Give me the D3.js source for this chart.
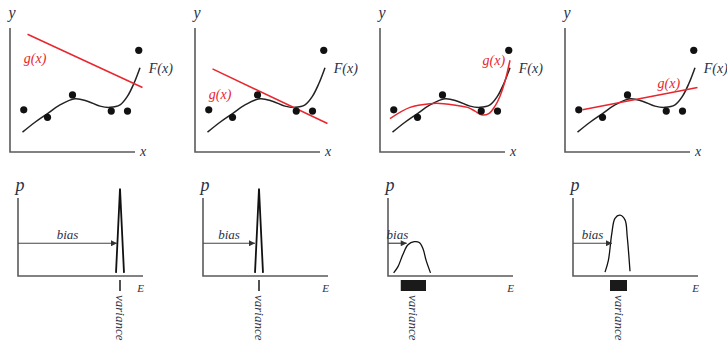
<!DOCTYPE html>
<html>
<head>
<meta charset="utf-8">
<script src="https://cdn.jsdelivr.net/npm/d3@7"></script>
<style>
  body { margin: 0; background: #fff; }
</style>
</head>
<body>
<div id="chart"></div>
<script>
// data points shared by the four fit panels (x, y in 0..100 units)
const dots = [[11, 34], [30, 28], [50, 46], [81, 33], [94, 33], [103, 82]];

// true function F(x)
const fCurve = [[10, 16], [20, 24], [30, 31], [40, 38], [52, 43], [62, 41], [72, 37], [80, 36], [88, 38], [94, 45], [99, 55], [104, 68]];

// fitted g(x) for each panel
const gFits = [
  [[14, 95], [106, 52]],
  [[14, 67], [106, 23]],
  [[8, 27], [24, 36], [40, 39], [51, 39], [62, 37.5], [70, 36], [76, 33], [81, 30], [87, 31], [92, 37], [96, 45], [100, 57], [104, 74]],
  [[14, 34], [106, 52]]
];
const gLabelAt = [[11, 72], [11, 43], [82, 70], [74, 52]];

// error distributions p(E), E and p in 0..100 units
const dists = [
  [[78.4, 4], [81.6, 112], [84.8, 4]],
  [[41.6, 4], [44.8, 112], [48.0, 4]],
  [[4.5, 4], [8, 12], [12, 28], [16, 40], [21, 44], [25, 43], [28, 35], [30.5, 20], [34, 4]],
  [[25.6, 5], [28.3, 20], [31, 54], [33.6, 74], [37.6, 78], [41.6, 72], [43.4, 50], [45.6, 6]]
];
const biasEnd = [79.2, 41.6, 15, 31.2];
const varLo = [81.0, 44.2, 10.2, 29.6];
const varHi = [82.2, 45.4, 30.4, 43.2];

const W = 727, H = 341;
const svg = d3.select('#chart').append('svg')
  .attr('width', W).attr('height', H)
  .style('font-family', "'Liberation Serif', 'Times New Roman', serif")
  .style('font-style', 'italic');

const defs = svg.append('defs');
defs.append('marker')
  .attr('id', 'arr')
  .attr('viewBox', '0 0 10 10')
  .attr('refX', 10).attr('refY', 5)
  .attr('markerWidth', 7).attr('markerHeight', 6)
  .attr('markerUnits', 'userSpaceOnUse')
  .attr('orient', 'auto')
  .append('path').attr('d', 'M0,0L10,5L0,10Z').attr('fill', '#333');

const axisColor = '#5a5a5a';
const red = '#e8262e';
const ink = '#2b3045';
const topLeft = [10, 195, 380, 565];
const botLeft = [18, 203, 388, 573];

// top row: curve fitting
topLeft.forEach((x0, i) => {
  const xs = d3.scaleLinear().domain([0, 100]).range([x0, x0 + 125]);
  const ys = d3.scaleLinear().domain([0, 100]).range([152, 28]);
  const g = svg.append('g');

  g.append('path')
    .attr('d', `M${xs(0)},${ys(100)}V${ys(0)}H${xs(100)}`)
    .attr('fill', 'none').attr('stroke', axisColor).attr('stroke-width', 1.6);
  g.append('text').attr('x', xs(0) + 2).attr('y', 18)
    .attr('text-anchor', 'middle').attr('font-size', 16).attr('fill', ink).text('y');
  g.append('text').attr('x', xs(106.5)).attr('y', 156)
    .attr('text-anchor', 'middle').attr('font-size', 14).attr('fill', ink).text('x');

  const line = d3.line().x(d => xs(d[0])).y(d => ys(d[1])).curve(d3.curveCatmullRom);

  g.append('path').attr('d', line(fCurve))
    .attr('fill', 'none').attr('stroke', '#222').attr('stroke-width', 1.5);
  g.append('path').attr('d', line(gFits[i]))
    .attr('fill', 'none').attr('stroke', red).attr('stroke-width', 1.5);

  g.selectAll('circle').data(dots).enter().append('circle')
    .attr('cx', d => xs(d[0])).attr('cy', d => ys(d[1]))
    .attr('r', 3.6).attr('fill', '#111');

  g.append('text').attr('x', xs(111)).attr('y', ys(64))
    .attr('font-size', 14).attr('fill', ink).text('F(x)');
  g.append('text').attr('x', xs(gLabelAt[i][0])).attr('y', ys(gLabelAt[i][1]))
    .attr('font-size', 14).attr('fill', red).text('g(x)');
});

// bottom row: error distributions
botLeft.forEach((x0, i) => {
  const es = d3.scaleLinear().domain([0, 100]).range([x0, x0 + 125]);
  const ps = d3.scaleLinear().domain([0, 100]).range([276, 198]);
  const g = svg.append('g');

  g.append('path')
    .attr('d', `M${es(0)},${ps(100)}V${ps(0)}H${es(100)}`)
    .attr('fill', 'none').attr('stroke', axisColor).attr('stroke-width', 1.6);
  g.append('text').attr('x', es(0) + 2).attr('y', 191)
    .attr('text-anchor', 'middle').attr('font-size', 18).attr('fill', ink).text('p');
  g.append('text').attr('x', es(98)).attr('y', 292)
    .attr('text-anchor', 'middle').attr('font-size', 11).attr('fill', ink).text('E');

  const line = d3.line().x(d => es(d[0])).y(d => ps(d[1]));
  const curved = dists[i].length > 3;
  g.append('path').attr('d', (curved ? line.curve(d3.curveCatmullRom) : line)(dists[i]))
    .attr('fill', 'none').attr('stroke', '#111').attr('stroke-width', curved ? 1.3 : 1.8);

  g.append('line')
    .attr('x1', es(0)).attr('x2', es(biasEnd[i]))
    .attr('y1', ps(42)).attr('y2', ps(42))
    .attr('stroke', '#444').attr('stroke-width', 1.2)
    .attr('marker-end', 'url(#arr)');
  g.append('text').attr('x', (es(0) + es(biasEnd[i])) / 2).attr('y', ps(48))
    .attr('text-anchor', 'middle').attr('font-size', 13).attr('fill', ink).text('bias');

  g.append('rect')
    .attr('x', es(varLo[i])).attr('width', es(varHi[i]) - es(varLo[i]))
    .attr('y', 280).attr('height', 11).attr('fill', '#1a1a1a');

  const vx = (es(varLo[i]) + es(varHi[i])) / 2;
  g.append('text')
    .attr('transform', `translate(${vx - 4},295) rotate(90)`)
    .attr('font-size', 13).attr('fill', ink).text('variance');
});
</script>
</body>
</html>
